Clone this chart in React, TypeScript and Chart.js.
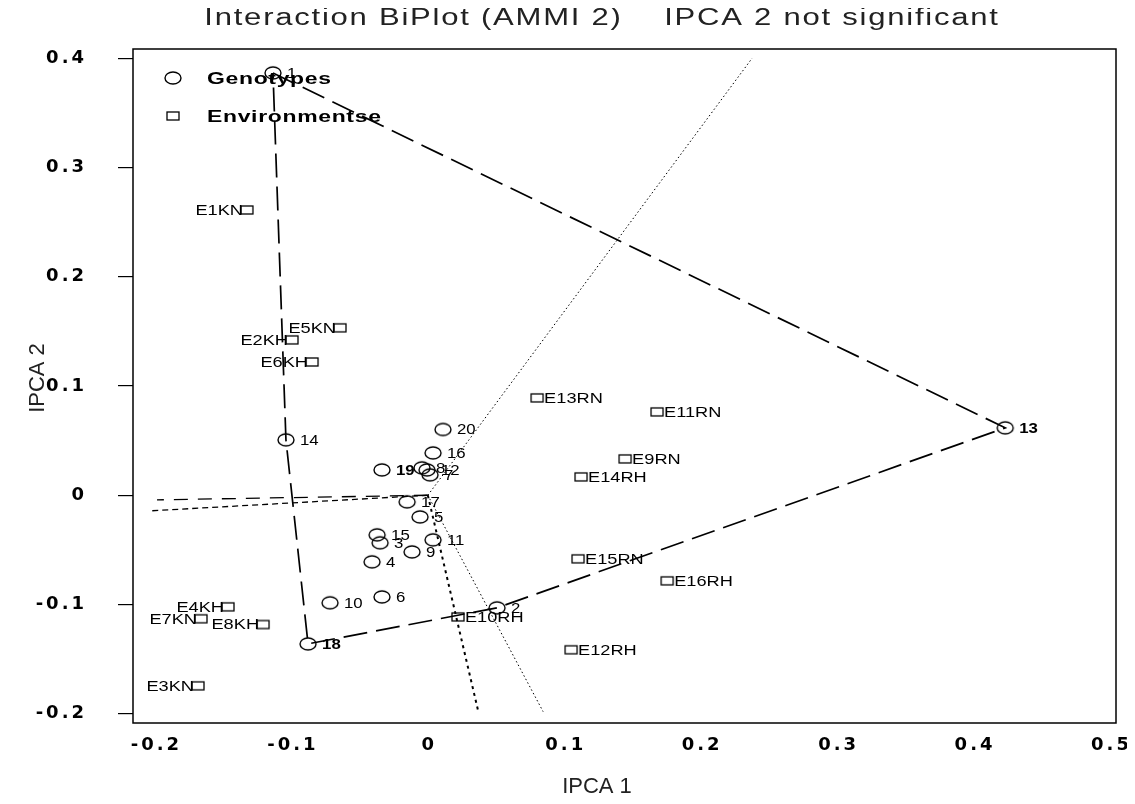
import React, { useEffect, useRef } from "react";
import { Chart, registerables } from "chart.js";

Chart.register(...registerables);

const titleText = "Interaction BiPlot (AMMI 2)    IPCA 2 not significant";
const xAxisTitle = "IPCA 1";
const yAxisTitle = "IPCA 2";
const legendItems = ["Genotypes", "Environmentse"];

const genotypeNames = ["1","2","3","4","5","6","7","8","9","10","11","12","13","14","15","16","17","18","19","20"];
const genotypeX = [-0.1135, 0.0507, -0.035, -0.0409, -0.0057, -0.0336, 0.0016, -0.0043, -0.0116, -0.0717, 0.0038, -0.0006, 0.4232, -0.104, -0.0372, 0.0038, -0.0152, -0.0878, -0.0336, 0.0111];
const genotypeY = [0.3865, -0.103, -0.0435, -0.0609, -0.0198, -0.093, 0.0187, 0.0251, -0.0518, -0.0984, -0.0408, 0.0232, 0.0617, 0.0507, -0.0362, 0.0388, -0.006, -0.136, 0.0232, 0.0602];
const boldGenotypes = ["13", "18", "19"];

const environmentNames = ["E1KN","E2KH","E3KN","E4KH","E5KN","E6KH","E7KN","E8KH","E9RN","E10RH","E11RN","E12RH","E13RN","E14RH","E15RN","E16RH"];
const environmentX = [-0.1326, -0.0996, -0.1685, -0.1465, -0.0644, -0.0849, -0.1663, -0.1208, 0.1446, 0.0221, 0.168, 0.105, 0.0801, 0.1123, 0.1101, 0.1754];
const environmentY = [0.2611, 0.1422, -0.1744, -0.1021, 0.1532, 0.122, -0.113, -0.1183, 0.0333, -0.1113, 0.0763, -0.1414, 0.0891, 0.0168, -0.0582, -0.0783];

const hullOrder = ["1", "13", "2", "18", "14", "1"];
const rayEndX = [0.2377, 0.0845, 0.037, -0.1985, -0.2037];
const rayEndY = [0.4, -0.198, -0.198, -0.0042, -0.0143];

const xTickValues = [-0.2, -0.1, 0, 0.1, 0.2, 0.3, 0.4, 0.5];
const yTickValues = [-0.2, -0.1, 0, 0.1, 0.2, 0.3, 0.4];

const FONT = '"Liberation Sans", Arial, Helvetica, sans-serif';
const TICK_FONT = '"DejaVu Sans", Verdana, sans-serif';

function makeEllipse(w: number, h: number, lw: number) {
  const c = document.createElement("canvas");
  c.width = w + 4;
  c.height = h + 4;
  const g = c.getContext("2d")!;
  g.lineWidth = lw;
  g.strokeStyle = "#000";
  g.beginPath();
  g.ellipse(c.width / 2, c.height / 2, w / 2, h / 2, 0, 0, Math.PI * 2);
  g.stroke();
  return c;
}

function makeRect(w: number, h: number, lw: number) {
  const c = document.createElement("canvas");
  c.width = w + 4;
  c.height = h + 4;
  const g = c.getContext("2d")!;
  g.lineWidth = lw;
  g.strokeStyle = "#000";
  g.strokeRect(2, 2, w, h);
  return c;
}

function fmt(v: number) {
  const r = Math.round(v * 10) / 10;
  return r === 0 ? "0" : String(r);
}

function stretchText(ctx: CanvasRenderingContext2D, text: string, x: number, y: number, align: CanvasTextAlign, sx: number) {
  ctx.save();
  ctx.translate(x, y);
  ctx.scale(sx, 1);
  ctx.textAlign = align;
  ctx.fillText(text, 0, 0);
  ctx.restore();
}

export default function App() {
  const ref = useRef<HTMLCanvasElement | null>(null);

  useEffect(() => {
    if (!ref.current) return;
    const ellipse = makeEllipse(16, 12, 1.4);
    const square = makeRect(12, 8, 1.3);

    const genoPoints = genotypeX.map((x, i) => ({ x, y: genotypeY[i] }));
    const envPoints = environmentX.map((x, i) => ({ x, y: environmentY[i] }));
    const hullPoints = hullOrder.map((n) => {
      const i = genotypeNames.indexOf(n);
      return { x: genotypeX[i], y: genotypeY[i] };
    });
    const rayDashes = [[1.5, 2.5], [1.5, 2.5], [3, 4], [14, 10], [6, 4]];
    const rayWidths = [1, 1, 2, 1.3, 1.3];
    const rayDatasets = rayEndX.map((ex, i) => ({
      label: "ray" + i,
      data: [{ x: 0, y: 0 }, { x: ex, y: rayEndY[i] }],
      showLine: true,
      borderColor: "#000",
      borderWidth: rayWidths[i],
      borderDash: rayDashes[i],
      pointRadius: 0,
      fill: false,
    }));

    const textPlugin = {
      id: "biplotTexts",
      beforeDraw(chart: any) {
        chart.ctx.letterSpacing = "3px";
      },
      beforeDatasetsDraw(chart: any) {
        chart.ctx.letterSpacing = "0px";
      },
      afterDatasetsDraw(chart: any) {
        const { ctx, chartArea: a, scales } = chart;
        const xs = scales.x;
        const ys = scales.y;
        ctx.save();
        ctx.letterSpacing = "0px";
        ctx.strokeStyle = "#000";
        ctx.lineWidth = 1.5;
        ctx.strokeRect(a.left, a.top, a.right - a.left, a.bottom - a.top);

        ctx.fillStyle = "#000";
        ctx.textBaseline = "middle";
        genotypeNames.forEach((n, i) => {
          ctx.font = (boldGenotypes.includes(n) ? "bold " : "") + "14px " + FONT;
          stretchText(ctx, n, xs.getPixelForValue(genotypeX[i]) + 14, ys.getPixelForValue(genotypeY[i]) + 1, "left", 1.2);
        });
        ctx.font = "14px " + FONT;
        environmentNames.forEach((n, i) => {
          const px = xs.getPixelForValue(environmentX[i]);
          const py = ys.getPixelForValue(environmentY[i]) + 1;
          if (environmentX[i] < 0) {
            stretchText(ctx, n, px - 4, py, "right", 1.3);
          } else {
            stretchText(ctx, n, px + 7, py, "left", 1.3);
          }
        });

        // legend
        ctx.drawImage(ellipse, a.left + 40 - ellipse.width / 2, a.top + 29 - ellipse.height / 2);
        ctx.drawImage(square, a.left + 40 - square.width / 2, a.top + 67 - square.height / 2);
        ctx.font = "bold 17px " + FONT;
        ctx.letterSpacing = "0.5px";
        stretchText(ctx, legendItems[0], a.left + 74, a.top + 30, "left", 1.35);
        stretchText(ctx, legendItems[1], a.left + 74, a.top + 68, "left", 1.35);

        // title
        ctx.fillStyle = "#222";
        ctx.font = "23px " + FONT;
        ctx.letterSpacing = "1.3px";
        stretchText(ctx, titleText, 594, 11, "center", 1.35);

        // axis titles
        ctx.letterSpacing = "0px";
        ctx.font = "22px " + FONT;
        ctx.textAlign = "center";
        ctx.fillText(xAxisTitle, 589, 779);
        ctx.save();
        ctx.translate(30, 370);
        ctx.rotate(-Math.PI / 2);
        ctx.fillText(yAxisTitle, 0, 0);
        ctx.restore();
        ctx.restore();
      },
    };

    const chart = new Chart(ref.current, {
      type: "scatter",
      data: {
        datasets: [
          {
            label: legendItems[0],
            data: genoPoints,
            pointStyle: ellipse as any,
            pointRadius: 8,
            showLine: false,
          },
          {
            label: legendItems[1],
            data: envPoints,
            pointStyle: square as any,
            pointRadius: 6,
            showLine: false,
          },
          {
            label: "hull",
            data: hullPoints,
            showLine: true,
            borderColor: "#000",
            borderWidth: 1.7,
            borderDash: [24, 9],
            pointRadius: 0,
            fill: false,
          },
          ...rayDatasets,
        ] as any,
      },
      options: {
        responsive: false,
        animation: false,
        layout: { padding: { top: 41, right: 11, left: 0, bottom: 0 } },
        plugins: {
          legend: { display: false },
          tooltip: { enabled: false },
          title: { display: false },
        },
        scales: {
          x: {
            type: "linear",
            min: -0.2161,
            max: 0.5044,
            afterFit: (s: any) => {
              s.height = 73;
              s.paddingLeft = 0;
              s.paddingRight = 0;
            },
            afterBuildTicks: (s: any) => {
              s.ticks = xTickValues.map((v) => ({ value: v }));
            },
            ticks: {
              callback: (v: any) => fmt(Number(v)),
              color: "#000",
              padding: 12,
              labelOffset: 1.5,
              font: { size: 18, weight: "bold", family: TICK_FONT },
              maxRotation: 0,
              autoSkip: false,
            },
            grid: { display: false, drawTicks: false },
            border: { display: false },
          },
          y: {
            type: "linear",
            min: -0.2084,
            max: 0.4084,
            afterFit: (s: any) => {
              s.width = 125;
              s.paddingTop = 0;
              s.paddingBottom = 0;
            },
            afterBuildTicks: (s: any) => {
              s.ticks = yTickValues.map((v) => ({ value: v }));
            },
            ticks: {
              callback: (v: any) => fmt(Number(v)),
              color: "#000",
              padding: 31,
              font: { size: 18, weight: "bold", family: TICK_FONT },
              autoSkip: false,
            },
            grid: { drawOnChartArea: false, drawTicks: true, tickLength: 15, color: "#000", lineWidth: 1.2 },
            border: { display: false },
          },
        },
      } as any,
      plugins: [textPlugin as any],
    });
    return () => chart.destroy();
  }, []);

  return (
    <div style={{ width: 1119, height: 788 }}>
      <canvas ref={ref} width={1119} height={788} style={{ display: "block" }} />
    </div>
  );
}
